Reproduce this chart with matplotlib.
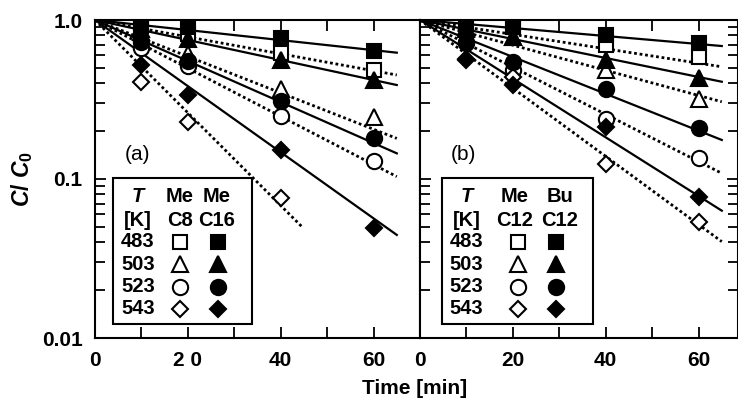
import matplotlib
matplotlib.use('Agg')
import matplotlib.pyplot as plt
from matplotlib.patches import Rectangle
import numpy as np

plt.rcParams['font.family'] = ['Liberation Sans', 'DejaVu Sans']
plt.rcParams['font.weight'] = 'bold'
plt.rcParams['mathtext.fontset'] = 'custom'
plt.rcParams['mathtext.rm'] = 'Liberation Sans:bold'
plt.rcParams['mathtext.it'] = 'Liberation Sans:italic:bold'
plt.rcParams['mathtext.bf'] = 'Liberation Sans:bold'

# sampling times [min]
times = [10, 20, 40, 60]
temps = [483, 503, 523, 543]

# panel (a): open = Me C8, filled = Me C16 (rows follow temps)
a_open = [[0.92, 0.82, 0.62, 0.485],
          [0.84, 0.61, 0.37, 0.246],
          [0.67, 0.51, 0.25, 0.13],
          [0.41, 0.229, 0.076, np.nan]]
a_filled = [[0.96, 0.91, 0.77, 0.64],
            [0.88, 0.76, 0.56, 0.42],
            [0.73, 0.55, 0.31, 0.18],
            [0.52, 0.337, 0.152, 0.049]]

# panel (b): open = Me C12, filled = Bu C12
b_open = [[0.95, 0.90, 0.70, 0.588],
          [0.88, 0.78, 0.485, 0.32],
          [0.73, 0.485, 0.24, 0.135],
          [0.57, 0.44, 0.124, 0.054]]
b_filled = [[0.96, 0.93, 0.805, 0.72],
            [0.90, 0.785, 0.56, 0.43],
            [0.72, 0.547, 0.366, 0.208],
            [0.56, 0.39, 0.211, 0.077]]

# fitted first-order lines: C/C0 = 1 at t=0, end point (t_end, value)
a_open_end_t = [65, 65, 65, 44.6]
a_open_end = [0.451, 0.180, 0.1035, 0.050]
a_filled_end_t = [65, 65, 65, 65]
a_filled_end = [0.623, 0.39, 0.145, 0.0445]
b_open_end_t = [65, 65, 65, 65]
b_open_end = [0.508, 0.306, 0.1086, 0.0404]
b_filled_end_t = [65, 65, 65, 65]
b_filled_end = [0.686, 0.409, 0.176, 0.0632]

markers = ['s', '^', 'o', 'D']
msizes = [10.5, 11, 11, 8.5]

W, H = 738, 399
fig = plt.figure(figsize=(W / 100, H / 100), dpi=100)


def fx(x):
    return x / W


def fy(y):
    return 1 - y / H


ax_a = fig.add_axes([fx(95), fy(338), fx(325), 318 / H])
ax_b = fig.add_axes([fx(420), fy(338), fx(318), 318 / H])


def draw_panel(ax, opens, filleds, open_t, open_end, fill_t, fill_end):
    for i in range(4):
        ax.plot([0, open_t[i]], [1, open_end[i]], color='black', lw=2.0,
                linestyle=(0, (1, 1)), zorder=2)
        ax.plot([0, fill_t[i]], [1, fill_end[i]], color='black', lw=1.6,
                linestyle='-', zorder=2)
    for i in range(4):
        ax.plot(times, opens[i], linestyle='none', marker=markers[i], ms=msizes[i],
                mfc='white', mec='black', mew=1.5, zorder=3)
        ax.plot(times, filleds[i], linestyle='none', marker=markers[i], ms=msizes[i],
                mfc='black', mec='black', mew=1.5, zorder=4)
    ax.set_yscale('log')
    ax.set_ylim(0.01, 1.0)
    for s in ax.spines.values():
        s.set_linewidth(1.5)
    ax.tick_params(which='major', direction='in', length=8, width=1.3,
                   labelsize=15, pad=9)
    ax.tick_params(which='minor', direction='in', length=7, width=1.3)


draw_panel(ax_a, a_open, a_filled, a_open_end_t, a_open_end,
           a_filled_end_t, a_filled_end)
draw_panel(ax_b, b_open, b_filled, b_open_end_t, b_open_end,
           b_filled_end_t, b_filled_end)

ax_a.set_xlim(0, 70)
ax_a.set_xticks(range(0, 71, 10))
ax_a.set_xticklabels(['0', '', '2 0', '', '40', '', '60', ''])
ax_a.set_yticks([0.01, 0.1, 1.0])
ax_a.set_yticklabels(['0.01', '0.1', '1.0'])
ax_a.tick_params(which='both', left=True, right=False, top=True, bottom=True)

ax_b.set_xlim(0, 318 / 325 * 70)
ax_b.set_xticks(range(0, 61, 10))
ax_b.set_xticklabels(['0', '', '20', '', '40', '', '60'])
ax_b.set_yticks([0.01, 0.1, 1.0])
ax_b.tick_params(which='both', left=True, right=True, top=True, bottom=True,
                 labelleft=False)

# legend boxes drawn by hand
def legend_box(x0, x1, cols, mcols, head1, head2):
    fig.patches.append(Rectangle((fx(x0), fy(324)), fx(x1 - x0), (324 - 178) / H,
                                 transform=fig.transFigure, facecolor='white',
                                 edgecolor='black', lw=1.5, zorder=5))
    rows = [197, 220, 241.7, 264, 286.7, 309]
    fs = 14.5
    fig.text(fx(cols[0]), fy(rows[0]), 'T', style='italic', fontsize=fs,
             ha='center', va='center', zorder=6)
    fig.text(fx(cols[0]), fy(rows[1]), '[K]', fontsize=fs, ha='center', va='center', zorder=6)
    for j in range(2):
        fig.text(fx(cols[j + 1]), fy(rows[0]), head1[j], fontsize=fs,
                 ha='center', va='center', zorder=6)
        fig.text(fx(cols[j + 1]), fy(rows[1]), head2[j], fontsize=fs,
                 ha='center', va='center', zorder=6)
    for i, T in enumerate(temps):
        fig.text(fx(cols[0]), fy(rows[i + 2]), str(T), fontsize=fs,
                 ha='center', va='center', zorder=6)
        for j, fc in enumerate(['white', 'black']):
            fig.lines.append(plt.Line2D([fx(mcols[j])], [fy(rows[i + 2])],
                                        transform=fig.transFigure,
                                        marker=markers[i], ms=msizes[i], mfc=fc,
                                        mec='black', mew=1.5, linestyle='none',
                                        zorder=6))


legend_box(113, 252, [138, 180, 217], [180, 218], ['Me', 'Me'], ['C8', 'C16'])
legend_box(441.7, 592.7, [466.7, 515, 560], [518, 556], ['Me', 'Bu'], ['C12', 'C12'])

fig.text(fx(137), fy(155), '(a)', fontsize=15, fontweight='normal', ha='center', va='center')
fig.text(fx(463), fy(155), '(b)', fontsize=15, fontweight='normal', ha='center', va='center')

fig.text(fx(22), fy(179), r'$C$/ $C_0$', fontsize=16.5, rotation=90,
         ha='center', va='center')
fig.text(fx(415), fy(388), 'Time [min]', fontsize=15, ha='center', va='center')

fig.savefig('out.png', dpi=100)
